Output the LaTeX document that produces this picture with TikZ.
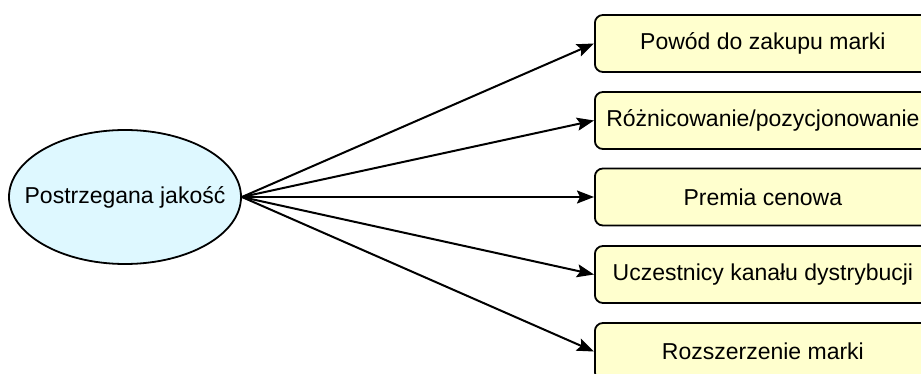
\documentclass[tikz,border=0pt]{standalone}
\usepackage{fontspec}
\setmainfont{Liberation Sans}
\usetikzlibrary{arrows.meta,shapes.geometric}
\definecolor{ellfill}{RGB}{222,248,255}
\definecolor{boxfill}{RGB}{255,255,206}
\tikzset{
  quality/.style={ellipse, draw=black, line width=1.8pt, fill=ellfill,
    minimum width=232pt, minimum height=134pt, inner sep=0pt,
    font=\fontsize{23}{27}\selectfont},
  effect/.style={rectangle, rounded corners=8pt, draw=black, line width=1.8pt,
    fill=boxfill, minimum width=336pt, minimum height=57pt, inner sep=0pt,
    anchor=west, font=\fontsize{23}{27}\selectfont},
  link/.style={line width=2pt, -{Stealth[length=17pt,width=13pt,inset=3pt]}}
}
\begin{document}
\begin{tikzpicture}[x=1pt,y=-1pt]
  \useasboundingbox (0,0) rectangle (921,374);
  \clip (0,0) rectangle (921,374);
  \fill[white] (0,0) rectangle (921,374);

  \node[quality] (pq) at (125,197) {\makebox[0pt]{Postrzegana jakość}};

  \node[effect] (e1) at (594,43.5) {Powód do zakupu marki};
  \node[effect] (e2) at (594,120.5) {Różnicowanie/pozycjonowanie};
  \node[effect] (e3) at (594,197) {Premia cenowa};
  \node[effect] (e4) at (594,274.5) {Uczestnicy kanału dystrybucji};
  \node[effect] (e5) at (594,351.5) {Rozszerzenie marki};

  \foreach \t in {e1,e2,e3,e4,e5}
    \draw[link] (pq.east) -- (\t.west);
\end{tikzpicture}
\end{document}
